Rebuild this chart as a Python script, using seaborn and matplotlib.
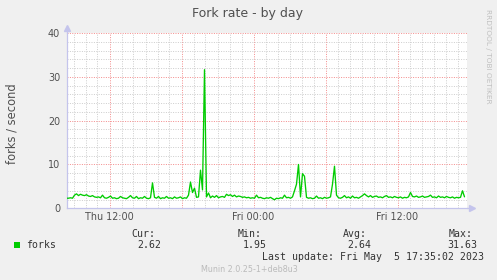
import numpy as np
import pandas as pd
import matplotlib
matplotlib.use("Agg")
import matplotlib.pyplot as plt
import matplotlib.dates as mdates
from matplotlib.ticker import MultipleLocator, FuncFormatter
from matplotlib.patches import Rectangle
import seaborn as sns

# ---------------- data ----------------
start_time = "2023-05-04 08:25"
step_minutes = 10
forks = [
    2.3, 2.3, 2.4, 2.3, 3.0, 3.3, 2.9, 3.2, 3.0, 2.9,
    3.1, 2.8, 2.7, 2.9, 2.6, 2.5, 2.6, 2.4, 3.0, 2.4,
    2.3, 2.5, 2.8, 2.3, 2.4, 2.2, 2.3, 2.7, 2.4, 2.3,
    2.2, 2.5, 2.9, 2.4, 2.3, 2.7, 2.2, 2.4, 2.3, 2.7,
    2.3, 2.2, 2.4, 5.8, 2.5, 2.3, 2.7, 2.2, 2.4, 2.3,
    2.7, 2.3, 2.4, 2.2, 2.6, 2.3, 2.4, 2.6, 2.2, 2.4,
    2.3, 3.0, 6.0, 3.6, 4.6, 2.5, 2.6, 8.7, 4.2, 31.63,
    2.6, 3.5, 2.4, 2.8, 2.5, 2.9, 2.4, 2.6, 2.7, 2.5,
    3.2, 2.9, 3.1, 2.7, 3.0, 2.6, 2.8, 2.7, 2.5, 2.6,
    2.4, 2.5, 2.3, 2.4, 2.3, 3.0, 2.4, 2.5, 2.3, 2.2,
    2.4, 2.3, 2.5, 2.2, 1.95, 2.3, 2.2, 2.4, 2.3, 3.0,
    2.4, 2.5, 2.3, 2.6, 4.0, 5.5, 10.0, 2.6, 7.9, 7.3,
    2.5, 2.3, 2.4, 2.2, 2.3, 2.8, 2.3, 2.4, 2.2, 2.5,
    2.3, 2.4, 2.6, 5.5, 9.6, 3.0, 2.4, 2.3, 2.5, 2.9,
    2.4, 2.6, 2.3, 2.8, 2.4, 2.5, 2.3, 2.6, 2.9, 3.3,
    2.9, 2.6, 2.9, 2.5, 2.7, 2.8, 2.5, 2.6, 2.4, 2.7,
    2.9, 2.5, 2.6, 2.4, 2.7, 2.5, 2.4, 2.6, 2.3, 2.5,
    2.4, 2.6, 3.6, 2.7, 2.6, 2.8, 2.5, 2.6, 2.8, 2.5,
    2.6, 2.7, 3.0, 2.5, 2.6, 2.4, 2.8, 2.5, 2.6, 2.4,
    2.7, 2.5, 2.4, 2.6, 2.3, 2.5, 2.4, 2.5, 4.0, 2.62,
]
title = "Fork rate - by day"
y_label = "forks / second"
series_name = "forks"
stat_labels = ["Cur:", "Min:", "Avg:", "Max:"]
stat_values = ["2.62", "1.95", "2.64", "31.63"]
last_update = "Last update: Fri May  5 17:35:02 2023"
footer = "Munin 2.0.25-1+deb8u3"
watermark = "RRDTOOL / TOBI OETIKER"
y_min, y_max = 0, 40

times = pd.date_range(start_time, periods=len(forks), freq=f"{step_minutes}min")
df = pd.DataFrame({"time": times, "forks": forks})

# ---------------- style ----------------
sns.set_theme(style="white")
plt.rcParams['font.family'] = ['DejaVu Sans']

W, H = 497, 280
BG = '#F0F0F0'
AXIS_C = '#C4C4EC'
TEXT_C = '#505050'
MONO = 'DejaVu Sans Mono'

def fx(px):
    return px / W

def fy(py):
    return 1 - py / H

fig = plt.figure(figsize=(W / 100, H / 100), dpi=100, facecolor=BG)
top_px, bot_px, left_px, right_px = 33, 208.3, 66.5, 466.5
ax = fig.add_axes([fx(left_px), fy(bot_px), (right_px - left_px) / W, (bot_px - top_px) / H])
ax.set_facecolor('white')

sns.lineplot(data=df, x="time", y="forks", ax=ax, color='#00CC00', linewidth=0.95, zorder=5)

t0 = times[0]
ax.set_xlim(t0, t0 + pd.Timedelta(minutes=step_minutes * len(forks)))
ax.set_ylim(y_min, y_max)

# grids
ax.xaxis.set_major_locator(mdates.HourLocator(byhour=[0, 6, 12, 18]))
ax.xaxis.set_minor_locator(mdates.HourLocator())

def xfmt(v, pos):
    d = mdates.num2date(v)
    if d.hour in (0, 12):
        return d.strftime("%a %H:%M")
    return ""

ax.xaxis.set_major_formatter(FuncFormatter(xfmt))
ax.yaxis.set_major_locator(MultipleLocator(10))
ax.yaxis.set_minor_locator(MultipleLocator(2))

ax.grid(which='minor', color='#CFCFCF', linestyle=(0, (1, 1.4)), linewidth=0.72)
ax.grid(which='major', color='#F49090', linestyle=(0, (1, 1.4)), linewidth=0.72)
ax.set_axisbelow(True)

ax.tick_params(axis='both', which='both', length=0, labelsize=6.9, labelcolor=TEXT_C)
ax.tick_params(axis='x', pad=3)
ax.tick_params(axis='y', pad=4.5)

for s in ['top', 'right']:
    ax.spines[s].set_visible(False)
for s in ['left', 'bottom']:
    ax.spines[s].set_color(AXIS_C)
    ax.spines[s].set_linewidth(0.9)

# axis arrows
ax.plot([0, 0], [1.0, 1.025], transform=ax.transAxes, color=AXIS_C, lw=0.9, clip_on=False)
ax.plot([0], [1.03], transform=ax.transAxes, marker='^', color=AXIS_C, markersize=4, clip_on=False)
ax.plot([1.0, 1.012], [0, 0], transform=ax.transAxes, color=AXIS_C, lw=0.9, clip_on=False)
ax.plot([1.015], [0], transform=ax.transAxes, marker='>', color=AXIS_C, markersize=4, clip_on=False)

ax.set_xlabel("")
ax.set_ylabel(y_label, fontsize=8.3, color=TEXT_C, va='center', ha='center')
ax.yaxis.set_label_coords((12.5 - left_px) / (right_px - left_px), (bot_px - 124) / (bot_px - top_px))

# title
fig.text(fx(248), fy(13), title, ha='center', va='center', fontsize=9, color='#505050')

# watermark
fig.text(fx(488), fy(56), watermark, ha='center', va='center', rotation=-90,
         fontsize=5.3, color='#C0C0C0')

# legend
fig.patches.append(Rectangle((fx(14), fy(247.5)), 5.5 / W, 5.5 / H, transform=fig.transFigure,
                             facecolor='#00CC00', edgecolor='none'))
fig.text(fx(26.5), fy(245), series_name, ha='left', va='center', family=MONO,
         fontsize=7.1, color='#333333')
label_x = [131.7, 237.3, 343.3, 448.3]
value_right = [161.7, 266.7, 371.7, 477.3]
for lab, val, lx, vx in zip(stat_labels, stat_values, label_x, value_right):
    fig.text(fx(lx), fy(234), lab, ha='left', va='center', family=MONO, fontsize=7.1, color='#333333')
    fig.text(fx(vx), fy(245), val, ha='right', va='center', family=MONO, fontsize=7.1, color='#333333')
fig.text(fx(483.5), fy(257.3), last_update, ha='right', va='center', family=MONO,
         fontsize=7.1, color='#333333')
fig.text(fx(249), fy(269.3), footer, ha='center', va='center', fontsize=5.8, color='#BBBBBB')

fig.savefig("out.png", dpi=100, facecolor=BG)
